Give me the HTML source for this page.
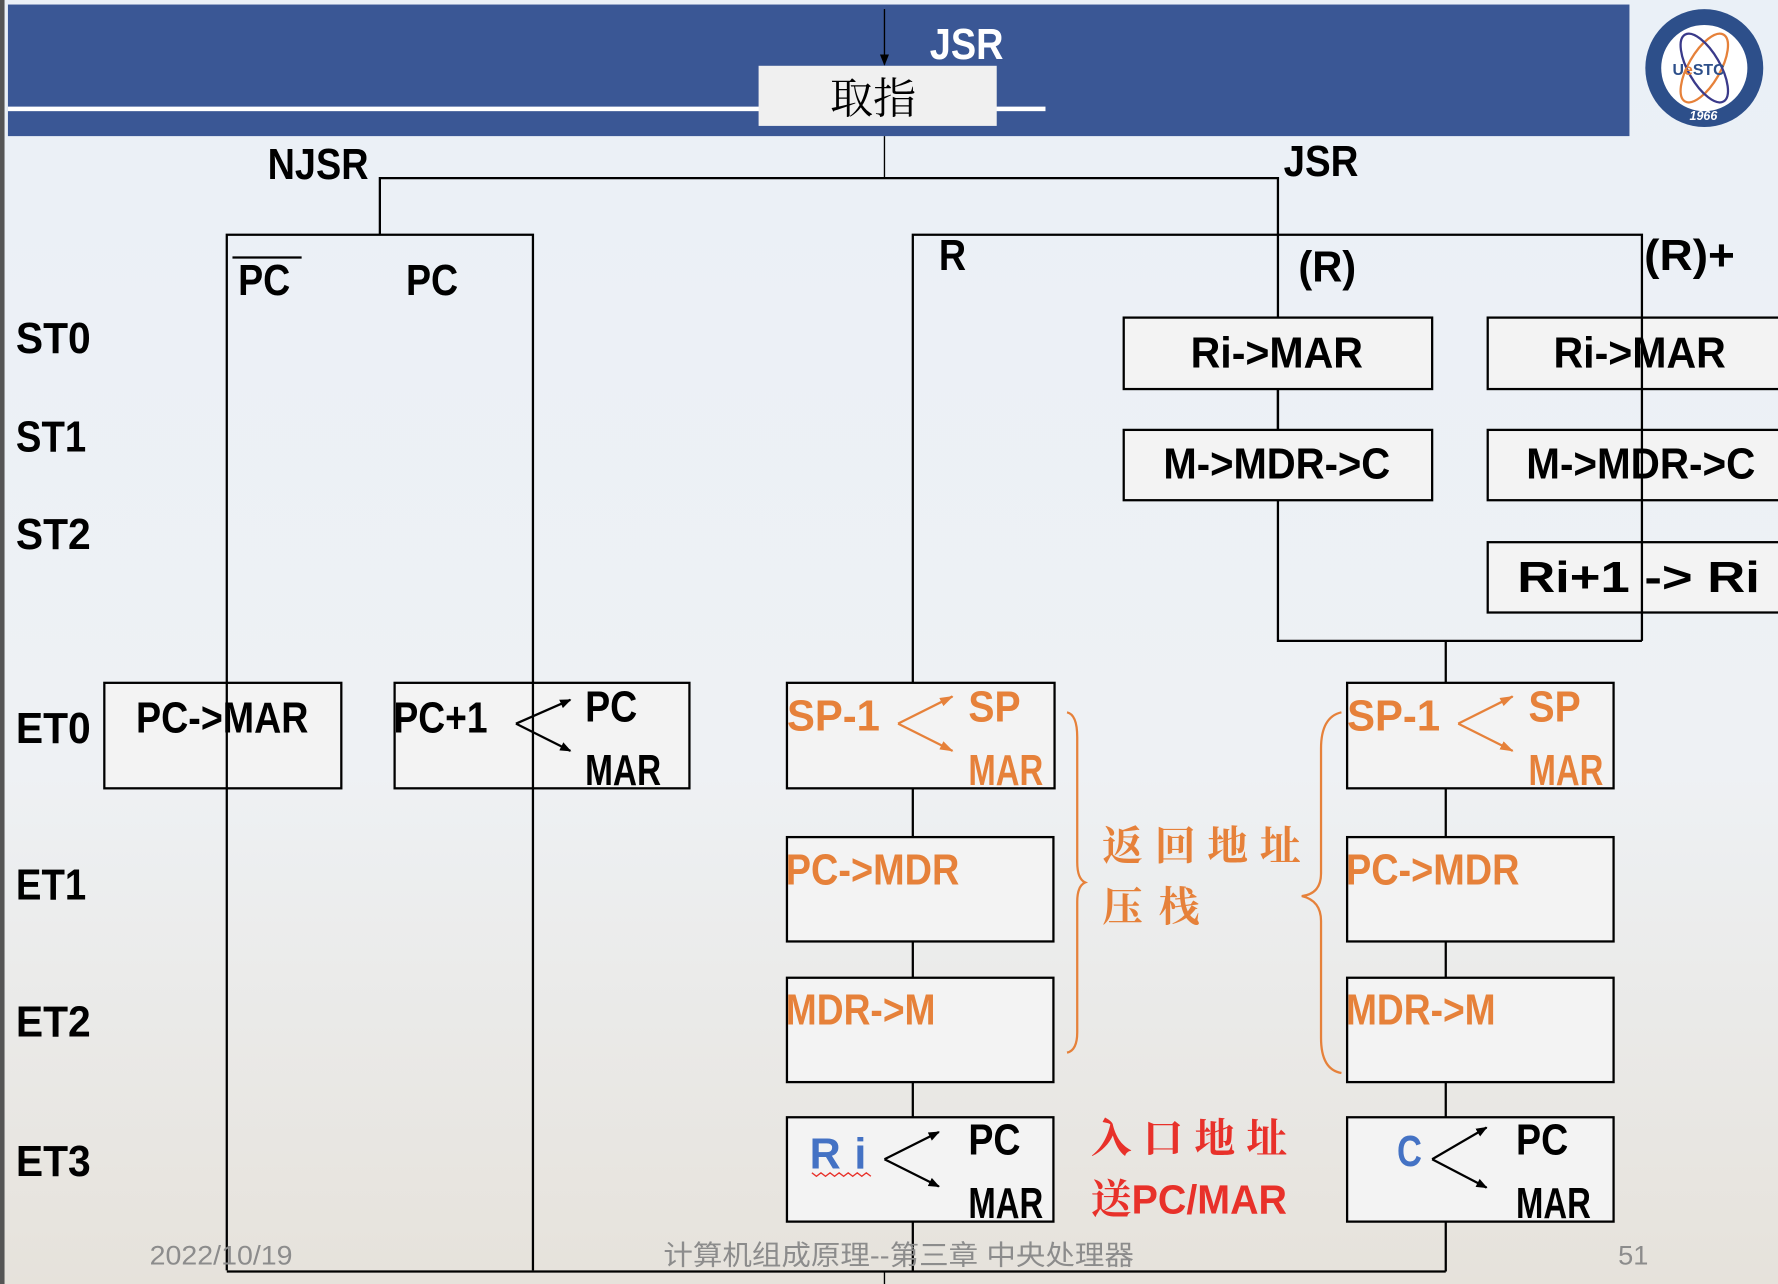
<!DOCTYPE html>
<html><head><meta charset="utf-8">
<style>
html,body{margin:0;padding:0;width:1778px;height:1284px;overflow:hidden;background:#eef2f7}
svg{display:block}
text{font-family:"Liberation Sans","Noto Sans CJK SC",sans-serif;font-weight:bold}
.cjk{font-family:"Noto Serif CJK SC","Noto Sans CJK SC",serif}
</style></head><body>
<svg width="1778" height="1284" viewBox="0 0 1568 1132" preserveAspectRatio="none" xmlns="http://www.w3.org/2000/svg">
<defs>
<linearGradient id="bg" x1="0" y1="0" x2="0" y2="1">
<stop offset="0" stop-color="#eaf0f7"/><stop offset="0.6" stop-color="#eef1f4"/><stop offset="1" stop-color="#e6e2db"/>
</linearGradient>
<marker id="ah" markerWidth="10" markerHeight="10" refX="9" refY="5" orient="auto" markerUnits="userSpaceOnUse"><path d="M0,1 L10,5 L0,9 z" fill="#000"/></marker>
<marker id="aho" markerWidth="12" markerHeight="10" refX="11" refY="5" orient="auto" markerUnits="userSpaceOnUse"><path d="M0,1 L12,5 L0,9 z" fill="#e6813a"/></marker>
</defs>
<rect width="1568" height="1132" fill="url(#bg)"/>
<rect x="0" y="0" width="4" height="1132" fill="#555"/>
<!-- header -->
<rect x="7" y="4" width="1430" height="116" fill="#3a5795"/>
<rect x="7" y="94" width="915" height="4" fill="#fff"/>
<rect x="669" y="58" width="210" height="53" fill="#f0f0f0"/>
<line x1="780" y1="8" x2="780" y2="57" stroke="#000" stroke-width="1.2" marker-end="url(#ah)"/>
<text x="820" y="52" font-size="38" fill="#fff" textLength="65" lengthAdjust="spacingAndGlyphs">JSR</text>
<text x="732" y="100" font-size="38" class="cjk" fill="#000" style="font-weight:normal">取指</text>
<!-- logo -->
<circle cx="1503" cy="60" r="52" fill="#2d4f8a"/>
<circle cx="1503" cy="60" r="38" fill="#fff"/>
<ellipse cx="1503" cy="60" rx="14" ry="34" fill="none" stroke="#e6813a" stroke-width="2" transform="rotate(30 1503 60)"/>
<ellipse cx="1503" cy="60" rx="14" ry="34" fill="none" stroke="#3a3a8a" stroke-width="2" transform="rotate(-30 1503 60)"/>
<text x="1475" y="66" font-size="14" fill="#2d4f8a">U<tspan fill="#e6813a">e</tspan>STC</text>
<text x="1490" y="106" font-size="11" fill="#fff" font-style="italic">1966</text>
<!-- connectors -->
<g stroke="#000" stroke-width="2" fill="none">
<line x1="780" y1="120" x2="780" y2="157" stroke-width="1.2"/>
<polyline points="335,207 335,157 1127,157 1127,565 1448,565"/>
<polyline points="200,1120 200,207 470,207 470,1120"/>
<polyline points="805,602 805,207 1448,207 1448,565"/>
<line x1="1275" y1="565" x2="1275" y2="602"/>
<line x1="1127" y1="343" x2="1127" y2="379"/>
<line x1="805" y1="695" x2="805" y2="985"/>
<line x1="1275" y1="695" x2="1275" y2="1121"/>
<line x1="200" y1="1121" x2="1275" y2="1121"/>
<line x1="805" y1="1077" x2="805" y2="1121"/>
<line x1="780" y1="1121" x2="780" y2="1132" stroke-width="1.2"/>
</g>
<!-- boxes -->
<g stroke="#000" stroke-width="2" fill="#f3f3f3">
<rect x="991" y="280" width="272" height="63"/>
<rect x="1312" y="280" width="270" height="63"/>
<rect x="991" y="379" width="272" height="62"/>
<rect x="1312" y="379" width="270" height="62"/>
<rect x="1312" y="478" width="270" height="62"/>
<rect x="92" y="602" width="209" height="93"/>
<rect x="348" y="602" width="260" height="93"/>
<rect x="694" y="602" width="236" height="93"/>
<rect x="1188" y="602" width="235" height="93"/>
<rect x="694" y="738" width="235" height="92"/>
<rect x="1188" y="738" width="235" height="92"/>
<rect x="694" y="862" width="235" height="92"/>
<rect x="1188" y="862" width="235" height="92"/>
<rect x="694" y="985" width="235" height="92"/>
<rect x="1188" y="985" width="235" height="92"/>
</g>
<g stroke="#000" stroke-width="2">
<line x1="200" y1="602" x2="200" y2="695"/>
<line x1="470" y1="602" x2="470" y2="695"/>
<line x1="1448" y1="280" x2="1448" y2="343"/>
<line x1="1448" y1="379" x2="1448" y2="441"/>
<line x1="1448" y1="478" x2="1448" y2="540"/>
</g>
<!-- labels -->
<g font-size="38" fill="#000" lengthAdjust="spacingAndGlyphs">
<text x="236" y="158" textLength="89" lengthAdjust="spacingAndGlyphs">NJSR</text>
<text x="1132" y="155" textLength="66" lengthAdjust="spacingAndGlyphs">JSR</text>
<text x="210" y="260" textLength="46" lengthAdjust="spacingAndGlyphs">PC</text>
<line x1="205" y1="227" x2="266" y2="227" stroke="#000" stroke-width="2"/>
<text x="358" y="260" textLength="46" lengthAdjust="spacingAndGlyphs">PC</text>
<text x="828" y="238" textLength="24" lengthAdjust="spacingAndGlyphs">R</text>
<text x="1145" y="248" textLength="51" lengthAdjust="spacingAndGlyphs">(R)</text>
<text x="1450" y="238" textLength="80" lengthAdjust="spacingAndGlyphs">(R)+</text>
<text x="14" y="311" textLength="66" lengthAdjust="spacingAndGlyphs">ST0</text>
<text x="14" y="398" textLength="62" lengthAdjust="spacingAndGlyphs">ST1</text>
<text x="14" y="484" textLength="66" lengthAdjust="spacingAndGlyphs">ST2</text>
<text x="14" y="655" textLength="66" lengthAdjust="spacingAndGlyphs">ET0</text>
<text x="14" y="793" textLength="62" lengthAdjust="spacingAndGlyphs">ET1</text>
<text x="14" y="914" textLength="66" lengthAdjust="spacingAndGlyphs">ET2</text>
<text x="14" y="1037" textLength="66" lengthAdjust="spacingAndGlyphs">ET3</text>
<text x="1050" y="324" textLength="152" lengthAdjust="spacingAndGlyphs">Ri-&gt;MAR</text>
<text x="1370" y="324" textLength="152" lengthAdjust="spacingAndGlyphs">Ri-&gt;MAR</text>
<text x="1026" y="422" textLength="200" lengthAdjust="spacingAndGlyphs">M-&gt;MDR-&gt;C</text>
<text x="1346" y="422" textLength="202" lengthAdjust="spacingAndGlyphs">M-&gt;MDR-&gt;C</text>
<text x="1338" y="522" textLength="214" lengthAdjust="spacingAndGlyphs">Ri+1 -&gt; Ri</text>
<text x="120" y="646" textLength="152" lengthAdjust="spacingAndGlyphs">PC-&gt;MAR</text>
<text x="347" y="646" textLength="83" lengthAdjust="spacingAndGlyphs">PC+1</text>
<text x="516" y="636" textLength="46" lengthAdjust="spacingAndGlyphs">PC</text>
<text x="516" y="692" textLength="67" lengthAdjust="spacingAndGlyphs">MAR</text>
<text x="854" y="1018" textLength="46" lengthAdjust="spacingAndGlyphs">PC</text>
<text x="854" y="1074" textLength="66" lengthAdjust="spacingAndGlyphs">MAR</text>
<text x="1337" y="1018" textLength="46" lengthAdjust="spacingAndGlyphs">PC</text>
<text x="1337" y="1074" textLength="66" lengthAdjust="spacingAndGlyphs">MAR</text>
</g>
<g fill="none" stroke="#000" stroke-width="2">
<line x1="455" y1="638" x2="503" y2="617" marker-end="url(#ah)"/>
<line x1="455" y1="638" x2="503" y2="662" marker-end="url(#ah)"/>
<line x1="780" y1="1022" x2="828" y2="998" marker-end="url(#ah)"/>
<line x1="780" y1="1022" x2="828" y2="1046" marker-end="url(#ah)"/>
<line x1="1263" y1="1022" x2="1311" y2="994" marker-end="url(#ah)"/>
<line x1="1263" y1="1022" x2="1311" y2="1047" marker-end="url(#ah)"/>
</g>
<g font-size="38" fill="#e6813a">
<text x="694" y="644" textLength="82" lengthAdjust="spacingAndGlyphs">SP-1</text>
<text x="854" y="636" textLength="46" lengthAdjust="spacingAndGlyphs">SP</text>
<text x="854" y="692" textLength="66" lengthAdjust="spacingAndGlyphs">MAR</text>
<text x="1188" y="644" textLength="82" lengthAdjust="spacingAndGlyphs">SP-1</text>
<text x="1348" y="636" textLength="46" lengthAdjust="spacingAndGlyphs">SP</text>
<text x="1348" y="692" textLength="66" lengthAdjust="spacingAndGlyphs">MAR</text>
<text x="693" y="780" textLength="153" lengthAdjust="spacingAndGlyphs">PC-&gt;MDR</text>
<text x="1187" y="780" textLength="153" lengthAdjust="spacingAndGlyphs">PC-&gt;MDR</text>
<text x="693" y="903" textLength="132" lengthAdjust="spacingAndGlyphs">MDR-&gt;M</text>
<text x="1187" y="903" textLength="132" lengthAdjust="spacingAndGlyphs">MDR-&gt;M</text>
<text x="972" y="758" class="cjk" font-size="36" textLength="175" lengthAdjust="spacing">返回地址</text>
<text x="972" y="812" class="cjk" font-size="36" textLength="86" lengthAdjust="spacing">压栈</text>
</g>
<g fill="none" stroke="#e6813a" stroke-width="2">
<line x1="792" y1="638" x2="840" y2="614" marker-end="url(#aho)"/>
<line x1="792" y1="638" x2="840" y2="662" marker-end="url(#aho)"/>
<line x1="1286" y1="638" x2="1334" y2="614" marker-end="url(#aho)"/>
<line x1="1286" y1="638" x2="1334" y2="662" marker-end="url(#aho)"/>
<path d="M941,628 Q950,630 950,650 L950,760 Q950,775 957,778 Q950,781 950,795 L950,910 Q950,926 941,928"/>
<path d="M1183,628 Q1165,632 1165,660 L1165,770 Q1165,788 1148,790 Q1165,794 1165,812 L1165,915 Q1165,943 1183,946"/>
</g>
<text x="714" y="1030" font-size="38" fill="#4472c4" textLength="50" lengthAdjust="spacing">Ri</text>
<path d="M716,1034 l4,3 4,-3 4,3 4,-3 4,3 4,-3 4,3 4,-3 4,3 4,-3 4,3 4,-3 4,3" fill="none" stroke="#e8312a" stroke-width="1.2"/>
<text x="1232" y="1028" font-size="38" fill="#4472c4" textLength="22" lengthAdjust="spacingAndGlyphs">C</text>
<text x="962" y="1016" font-size="36" fill="#e8312a" class="cjk" textLength="173" lengthAdjust="spacing">入口地址</text>
<text x="962" y="1070" font-size="36" fill="#e8312a"><tspan class="cjk">送</tspan><tspan textLength="137" lengthAdjust="spacingAndGlyphs">PC/MAR</tspan></text>
<!-- footer -->
<g fill="#8c8c8c">
<text x="132" y="1115" font-size="24" style="font-weight:normal" textLength="126" lengthAdjust="spacingAndGlyphs">2022/10/19</text>
<text x="585" y="1115" font-size="24" style="font-weight:normal" textLength="415" lengthAdjust="spacingAndGlyphs">计算机组成原理--第三章 中央处理器</text>
<text x="1427" y="1115" font-size="24" style="font-weight:normal">51</text>
</g>
</svg>
</body></html>
